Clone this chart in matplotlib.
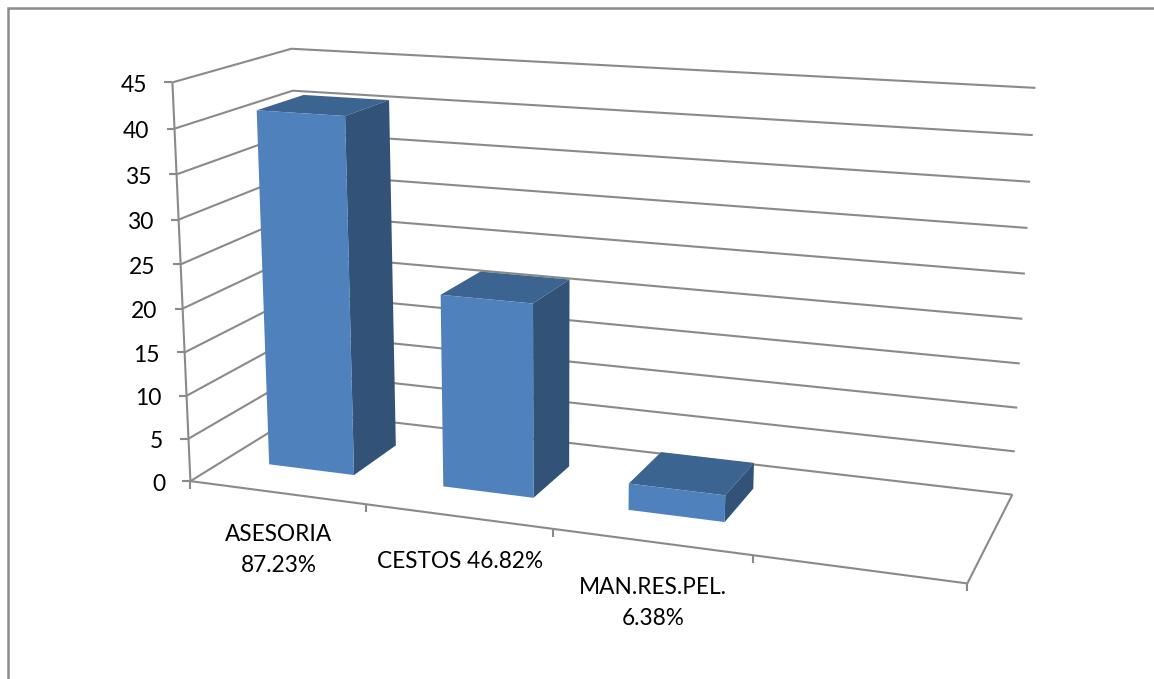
import numpy as np
import matplotlib
matplotlib.use('Agg')
import matplotlib.pyplot as plt
from matplotlib.patches import Polygon

plt.rcParams['font.family'] = ['Lato', 'DejaVu Sans']

# data
categories = ['ASESORIA\n87.23%', 'CESTOS 46.82%', 'MAN.RES.PEL.\n6.38%']
values = [41, 22, 3]
y_ticks = [0, 5, 10, 15, 20, 25, 30, 35, 40, 45]
n_slots = 4

FRONT = '#4f81bd'
SIDE = '#325278'
TOP = '#3c6491'
GRID = '#8a8a8a'

# where the corners of the chart box land in the picture (x 0-1, y 0-1, depth 0-1)
anchors = [
    ((0, 0, 0), (193, 481)),
    ((0, 1, 0), (170, 82)),
    ((0, 0, 1), (300, 412)),
    ((0, 1, 1), (294, 49)),
    ((1, 0, 1), (1013, 494)),
    ((1, 1, 1), (1035, 88)),
    ((1, 0, 0), (967, 584)),
]


def fit_camera(pairs):
    rows = []
    rhs = []
    for (x, y, z), (u, v) in pairs:
        rows.append([x, y, z, 1, 0, 0, 0, 0, -u * x, -u * y, -u * z])
        rows.append([0, 0, 0, 0, x, y, z, 1, -v * x, -v * y, -v * z])
        rhs += [u, v]
    p = np.linalg.lstsq(np.array(rows, float), np.array(rhs, float), rcond=None)[0]
    return np.append(p, 1).reshape(3, 4)


cam = fit_camera(anchors)


def proj(slot, val, depth):
    # slot in category units, val in axis units, depth 0-1
    pt = cam @ np.array([slot / n_slots, val / y_ticks[-1], depth, 1.0])
    return pt[0] / pt[2], pt[1] / pt[2]


fig = plt.figure(figsize=(11.54, 6.79), dpi=100)
ax = fig.add_axes([0, 0, 1, 1])
ax.set_xlim(0, 1154)
ax.set_ylim(679, 0)
ax.axis('off')

# outer frame, only top and left show
ax.plot([7.5, 7.5, 1154], [679, 8, 8], color='#8c8c8c', lw=1.8, solid_joinstyle='miter')


def line(pts, **kw):
    xs, ys = zip(*pts)
    ax.plot(xs, ys, color=GRID, lw=1.5, zorder=1, solid_capstyle='butt', **kw)


# gridlines on side wall and back wall
for v in y_ticks:
    line([proj(0, v, 0), proj(0, v, 1), proj(n_slots, v, 1)])
    x0, y0 = proj(0, v, 0)
    line([(x0 - 8, y0), (x0, y0)])
    ax.text(x0 - 25, y0 + 3, str(v), ha='right', va='center', fontsize=16.5, color='black')

# value axis and floor
line([proj(0, 0, 0), proj(0, y_ticks[-1], 0)])
line([proj(0, 0, 0), proj(n_slots, 0, 0), proj(n_slots, 0, 1)])
for i in range(n_slots + 1):
    x0, y0 = proj(i, 0, 0)
    line([(x0, y0), (x0, y0 + 8)])

# bars
gap = 0.255
z0, z1 = 0.30, 0.71
for i, val in enumerate(values):
    a, b = i + gap, i + 1 - gap + 0.005
    ax.add_patch(Polygon([proj(a, val, z0), proj(a, val, z1), proj(b, val, z1), proj(b, val, z0)],
                         fc=TOP, ec='none', zorder=3))
    ax.add_patch(Polygon([proj(b, 0, z0), proj(b, val, z0), proj(b, val, z1), proj(b, 0, z1)],
                         fc=SIDE, ec='none', zorder=3))
    ax.add_patch(Polygon([proj(a, 0, z0), proj(a, val, z0), proj(b, val, z0), proj(b, 0, z0)],
                         fc=FRONT, ec='none', zorder=4))

# category labels
label_pos = [(279, 550), (460, 561), (653, 603)]
for name, (lx, ly) in zip(categories, label_pos):
    ax.text(lx, ly, name, ha='center', va='center', fontsize=16.3, color='black', linespacing=1.55)

fig.savefig('out.png', dpi=100)
